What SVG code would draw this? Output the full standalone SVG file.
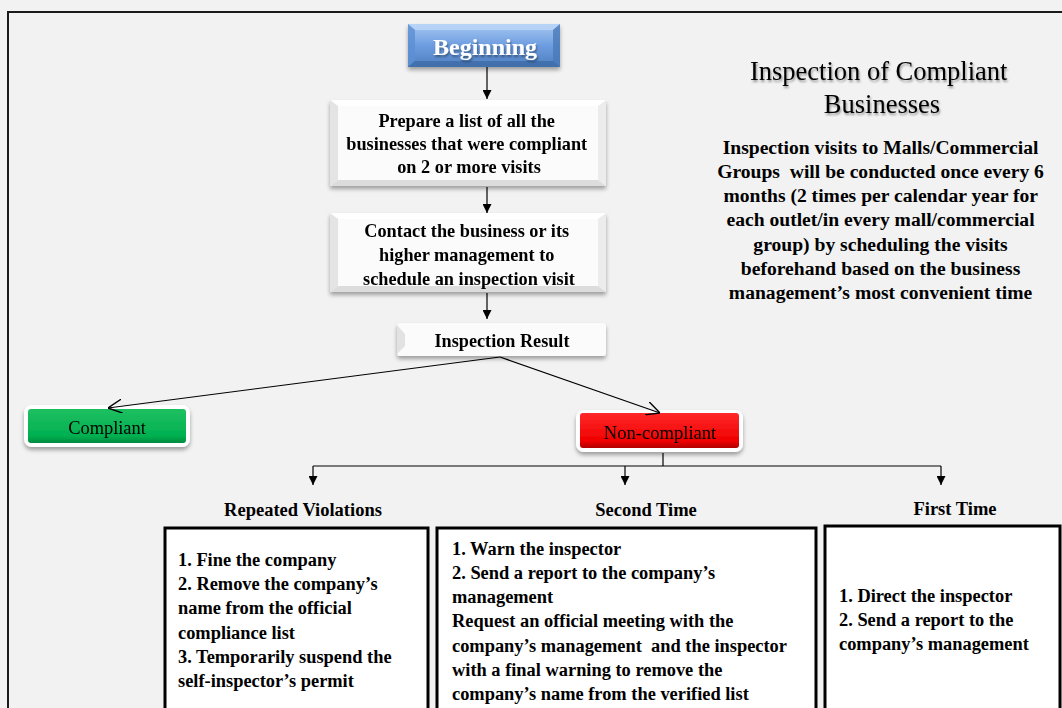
<svg xmlns="http://www.w3.org/2000/svg" width="1062" height="708" viewBox="0 0 1062 708">
<defs>
<style>
.b{font-family:"Liberation Serif","Times New Roman",serif;font-weight:bold;fill:#000}
.r{font-family:"Liberation Serif","Times New Roman",serif;fill:#000}
.ln{stroke:#000;stroke-width:1.2;fill:none}
.box{fill:#fff;stroke:#000;stroke-width:3}
</style>
<linearGradient id="blue" x1="0" y1="0" x2="0" y2="1">
<stop offset="0" stop-color="#a7c8f2"/><stop offset="0.5" stop-color="#6d9de0"/><stop offset="1" stop-color="#4f7fc0"/>
</linearGradient>
<linearGradient id="green" x1="0" y1="0" x2="0" y2="1">
<stop offset="0" stop-color="#1fc061"/><stop offset="0.8" stop-color="#00b050"/><stop offset="1" stop-color="#008a3e"/>
</linearGradient>
<linearGradient id="red" x1="0" y1="0" x2="0" y2="1">
<stop offset="0" stop-color="#ff2a2a"/><stop offset="0.8" stop-color="#f00000"/><stop offset="1" stop-color="#b00000"/>
</linearGradient>
<filter id="sh" x="-10%" y="-20%" width="120%" height="150%">
<feGaussianBlur in="SourceAlpha" stdDeviation="2"/><feOffset dx="0" dy="3"/>
<feComponentTransfer><feFuncA type="linear" slope="0.35"/></feComponentTransfer>
<feMerge><feMergeNode/><feMergeNode in="SourceGraphic"/></feMerge>
</filter>
<filter id="tsh" x="-5%" y="-20%" width="110%" height="150%">
<feGaussianBlur in="SourceAlpha" stdDeviation="1.2"/><feOffset dx="1" dy="2"/>
<feComponentTransfer><feFuncA type="linear" slope="0.4"/></feComponentTransfer>
<feMerge><feMergeNode/><feMergeNode in="SourceGraphic"/></feMerge>
</filter>
<marker id="ah" viewBox="0 0 10 10" refX="10" refY="5" markerWidth="9" markerHeight="9" markerUnits="userSpaceOnUse" orient="auto">
<path d="M0,0 L10,5 L0,10 z" fill="#000"/>
</marker>
<marker id="oh" viewBox="0 0 10 10" refX="10" refY="5" markerWidth="14" markerHeight="14" markerUnits="userSpaceOnUse" orient="auto">
<path d="M0,0 L10,5 L0,10" fill="none" stroke="#000" stroke-width="1"/>
</marker>
</defs>
<rect width="1062" height="708" fill="#f2f2f2"/>
<path d="M8,720 L8,12 L1070,12" fill="none" stroke="#1a1a1a" stroke-width="2"/>

<g id="beginning" filter="url(#sh)">
<rect x="408" y="24" width="152" height="43" fill="url(#blue)"/>
<polygon points="408,24 560,24 553,30 415,30" fill="#bcd6f7" opacity="0.8"/>
<polygon points="408,24 415,30 415,61 408,67" fill="#5d8ed3" opacity="0.8"/>
<polygon points="560,24 553,30 553,61 560,67" fill="#4a79b8" opacity="0.8"/>
<polygon points="408,67 415,61 553,61 560,67" fill="#3f6ca8" opacity="0.8"/>
<text x="485" y="55" text-anchor="middle" class="b" font-size="24" style="fill:#fff" filter="url(#tsh)">Beginning</text>
</g>

<g id="prepare" filter="url(#sh)">
<rect x="330" y="100" width="276" height="86" fill="#fbfbfb"/>
<polygon points="330,100 606,100 598,106 338,106" fill="#ffffff"/>
<polygon points="330,100 338,106 338,180 330,186" fill="#e4e4e4"/>
<polygon points="606,100 598,106 598,180 606,186" fill="#ececec"/>
<polygon points="330,186 338,180 598,180 606,186" fill="#dcdcdc"/>
<text class="b" font-size="18.3" text-anchor="middle">
<tspan x="469" y="127">Prepare a list of all the</tspan>
<tspan x="469" y="150">businesses that were compliant</tspan>
<tspan x="469" y="173">on 2 or more visits</tspan>
</text>
</g>

<g id="contact" filter="url(#sh)">
<rect x="330" y="213" width="276" height="79" fill="#fbfbfb"/>
<polygon points="330,213 606,213 598,219 338,219" fill="#ffffff"/>
<polygon points="330,213 338,219 338,286 330,292" fill="#e4e4e4"/>
<polygon points="606,213 598,219 598,286 606,292" fill="#ececec"/>
<polygon points="330,292 338,286 598,286 606,292" fill="#dcdcdc"/>
<text class="b" font-size="18.3" text-anchor="middle">
<tspan x="469" y="237">Contact the business or its</tspan>
<tspan x="469" y="261">higher management to</tspan>
<tspan x="469" y="285">schedule an inspection visit</tspan>
</text>
</g>

<g id="result" filter="url(#sh)">
<rect x="397" y="323" width="209" height="33" rx="3" fill="#fbfbfb"/>
<polygon points="397,325 405,334 405,346 397,354" fill="#e2e2e2"/>
<text x="502" y="347" text-anchor="middle" class="b" font-size="18.2">Inspection Result</text>
</g>

<g id="compliant" filter="url(#sh)">
<rect x="24" y="405" width="166" height="42" rx="8" fill="#fff"/>
<rect x="28" y="409" width="158" height="34" rx="3" fill="url(#green)"/>
<text x="107" y="434" text-anchor="middle" class="r" font-size="18.4">Compliant</text>
</g>

<g id="noncompliant" filter="url(#sh)">
<rect x="576" y="410" width="167" height="42" rx="8" fill="#fff"/>
<rect x="580" y="413" width="159" height="35" rx="3" fill="url(#red)"/>
<text x="660" y="439" text-anchor="middle" class="r" font-size="18.6">Non-compliant</text>
</g>

<g id="title">
<text class="r" font-size="26.5" text-anchor="middle" filter="url(#tsh)">
<tspan x="882" y="80">Inspection of Compliant</tspan>
<tspan x="882" y="113">Businesses</tspan>
</text>
</g>

<g id="note">
<text class="b" font-size="19.6" text-anchor="middle" xml:space="preserve">
<tspan x="883" y="154">Inspection visits to Malls/Commercial</tspan>
<tspan x="883" y="178">Groups  will be conducted once every 6</tspan>
<tspan x="883" y="202">months (2 times per calendar year for</tspan>
<tspan x="883" y="226">each outlet/in every mall/commercial</tspan>
<tspan x="883" y="251">group) by scheduling the visits</tspan>
<tspan x="883" y="275">beforehand based on the business</tspan>
<tspan x="883" y="299">management’s most convenient time</tspan>
</text>
</g>

<g id="repeated">
<text x="303" y="516" text-anchor="middle" class="b" font-size="18.5">Repeated Violations</text>
<rect class="box" x="165" y="528" width="263" height="190"/>
<text class="b" font-size="18.4">
<tspan x="178" y="566">1. Fine the company</tspan>
<tspan x="178" y="590">2. Remove the company’s</tspan>
<tspan x="178" y="614">name from the official</tspan>
<tspan x="178" y="639">compliance list</tspan>
<tspan x="178" y="663">3. Temporarily suspend the</tspan>
<tspan x="178" y="687">self-inspector’s permit</tspan>
</text>
</g>

<g id="second">
<text x="646" y="516" text-anchor="middle" class="b" font-size="18.5">Second Time</text>
<rect class="box" x="437" y="528" width="379" height="190"/>
<text class="b" font-size="18.4" xml:space="preserve">
<tspan x="452" y="555">1. Warn the inspector</tspan>
<tspan x="452" y="579">2. Send a report to the company’s</tspan>
<tspan x="452" y="603">management</tspan>
<tspan x="452" y="627">Request an official meeting with the</tspan>
<tspan x="452" y="652">company’s management  and the inspector</tspan>
<tspan x="452" y="676">with a final warning to remove the</tspan>
<tspan x="452" y="700">company’s name from the verified list</tspan>
</text>
</g>

<g id="first">
<text x="955" y="515" text-anchor="middle" class="b" font-size="18.5">First Time</text>
<rect class="box" x="825" y="526" width="235" height="192"/>
<text class="b" font-size="18.4">
<tspan x="839" y="602">1. Direct the inspector</tspan>
<tspan x="839" y="626">2. Send a report to the</tspan>
<tspan x="839" y="650">company’s management</tspan>
</text>
</g>

<g id="connectors">
<line class="ln" x1="487" y1="67" x2="487" y2="99" marker-end="url(#ah)"/>
<line class="ln" x1="487" y1="187" x2="487" y2="213" marker-end="url(#ah)"/>
<line class="ln" x1="487" y1="293" x2="487" y2="319" marker-end="url(#ah)"/>
<line class="ln" x1="500" y1="357" x2="108" y2="408" marker-end="url(#oh)"/>
<line class="ln" x1="500" y1="357" x2="660" y2="413" marker-end="url(#oh)"/>
<line class="ln" x1="663" y1="453" x2="663" y2="466"/>
<line class="ln" x1="313" y1="466" x2="941" y2="466"/>
<line class="ln" x1="313" y1="466" x2="313" y2="485" marker-end="url(#ah)"/>
<line class="ln" x1="625" y1="466" x2="625" y2="485" marker-end="url(#ah)"/>
<line class="ln" x1="941" y1="466" x2="941" y2="485" marker-end="url(#ah)"/>
</g>
</svg>
